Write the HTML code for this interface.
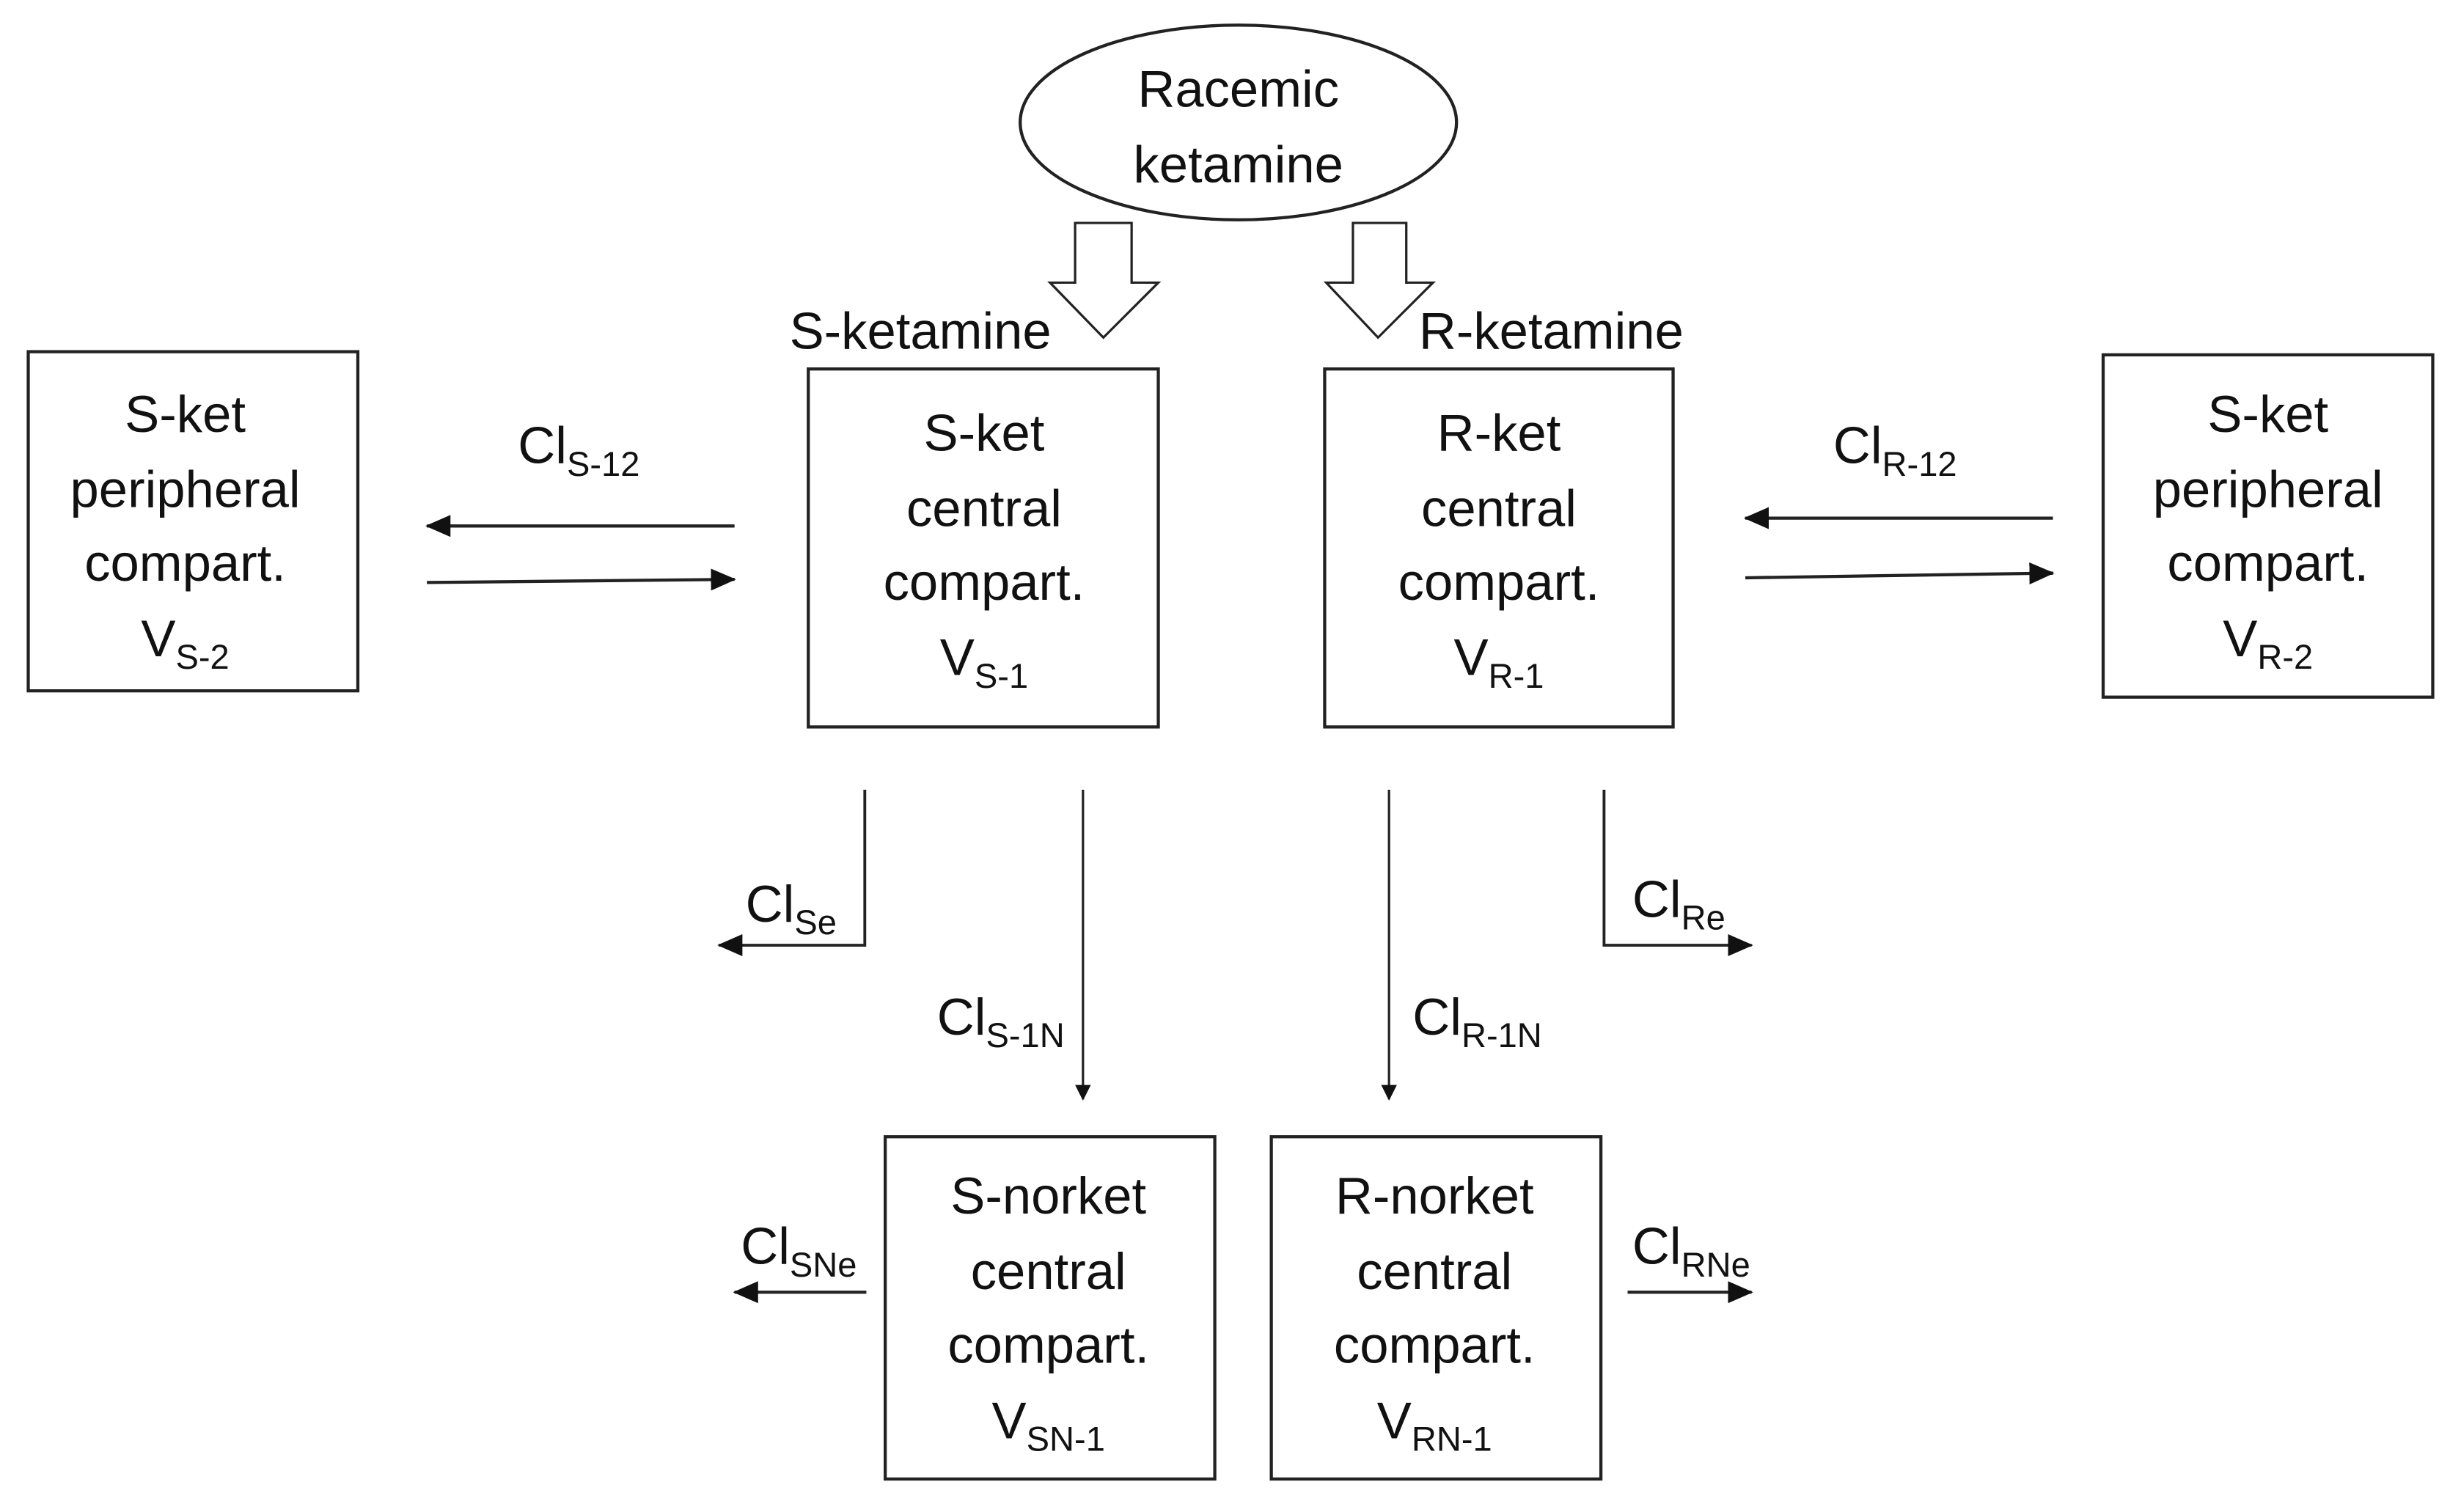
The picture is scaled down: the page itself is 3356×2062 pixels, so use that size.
<!DOCTYPE html>
<html><head><meta charset="utf-8"><style>
html,body{margin:0;padding:0;background:#fff;}
svg{display:block}
text{font-family:"Liberation Sans",sans-serif;font-size:33px;fill:#111;}
.s{font-size:22px}
</style></head><body>
<svg width="3356" height="2062" viewBox="0 0 1568 963" preserveAspectRatio="none" xmlns="http://www.w3.org/2000/svg">
<defs>
<marker id="a" markerWidth="10" markerHeight="10" refX="9" refY="5" orient="auto" markerUnits="userSpaceOnUse" viewBox="0 0 10 10">
<path d="M0,0 L10,5 L0,10 z" fill="#111"/></marker>
<marker id="b" markerWidth="16" markerHeight="14" refX="15" refY="7" orient="auto" markerUnits="userSpaceOnUse" viewBox="0 0 16 14">
<path d="M0,0 L16,7 L0,14 z" fill="#111"/></marker>
</defs>
<g fill="none" stroke="#222" stroke-width="2">
<ellipse cx="789" cy="78" rx="139" ry="62"/>
<path d="M685,142 L721,142 L721,180 L738,180 L703,215 L669,180 L685,180 Z" stroke-width="1.5"/>
<path d="M862,142 L896,142 L896,180 L913,180 L878,215 L845,180 L862,180 Z" stroke-width="1.5"/>
<rect x="18" y="224" width="210" height="216"/>
<rect x="515" y="235" width="223" height="228"/>
<rect x="844" y="235" width="222" height="228"/>
<rect x="1340" y="226" width="210" height="218"/>
<rect x="564" y="724" width="210" height="218"/>
<rect x="810" y="724" width="210" height="218"/>
<line x1="468" y1="335" x2="272" y2="335" marker-end="url(#b)"/>
<line x1="272" y1="371" x2="468" y2="369" marker-end="url(#b)"/>
<line x1="1308" y1="330" x2="1112" y2="330" marker-end="url(#b)"/>
<line x1="1112" y1="368" x2="1308" y2="365" marker-end="url(#b)"/>
<polyline points="551,503 551,602 458,602" stroke-width="1.8" marker-end="url(#b)"/>
<polyline points="1022,503 1022,602 1116,602" stroke-width="1.8" marker-end="url(#b)"/>
<line x1="690" y1="503" x2="690" y2="700" stroke-width="1.5" marker-end="url(#a)"/>
<line x1="885" y1="503" x2="885" y2="700" stroke-width="1.5" marker-end="url(#a)"/>
<line x1="552" y1="823" x2="468" y2="823" marker-end="url(#b)"/>
<line x1="1037" y1="823" x2="1116" y2="823" marker-end="url(#b)"/>
</g>
<g text-anchor="middle">
<text x="789" y="68">Racemic</text><text x="789" y="116">ketamine</text>
<text x="118" y="275">S-ket</text><text x="118" y="323">peripheral</text><text x="118" y="370">compart.</text>
<text x="118" y="418">V<tspan class="s" dy="8">S-2</tspan></text>
<text x="627" y="287">S-ket</text><text x="627" y="335">central</text><text x="627" y="382">compart.</text>
<text x="627" y="430">V<tspan class="s" dy="8">S-1</tspan></text>
<text x="955" y="287">R-ket</text><text x="955" y="335">central</text><text x="955" y="382">compart.</text>
<text x="955" y="430">V<tspan class="s" dy="8">R-1</tspan></text>
<text x="1445" y="275">S-ket</text><text x="1445" y="323">peripheral</text><text x="1445" y="370">compart.</text>
<text x="1445" y="418">V<tspan class="s" dy="8">R-2</tspan></text>
<text x="668" y="773">S-norket</text><text x="668" y="821">central</text><text x="668" y="868">compart.</text>
<text x="668" y="916">V<tspan class="s" dy="8">SN-1</tspan></text>
<text x="914" y="773">R-norket</text><text x="914" y="821">central</text><text x="914" y="868">compart.</text>
<text x="914" y="916">V<tspan class="s" dy="8">RN-1</tspan></text>
</g>
<text x="503" y="222">S-ketamine</text>
<text x="904" y="222">R-ketamine</text>
<text x="330" y="295">Cl<tspan class="s" dy="8">S-12</tspan></text>
<text x="1168" y="295">Cl<tspan class="s" dy="8">R-12</tspan></text>
<text x="475" y="587">Cl<tspan class="s" dy="8">Se</tspan></text>
<text x="1040" y="584">Cl<tspan class="s" dy="8">Re</tspan></text>
<text x="597" y="659">Cl<tspan class="s" dy="8">S-1N</tspan></text>
<text x="900" y="659">Cl<tspan class="s" dy="8">R-1N</tspan></text>
<text x="472" y="805">Cl<tspan class="s" dy="8">SNe</tspan></text>
<text x="1040" y="805">Cl<tspan class="s" dy="8">RNe</tspan></text>
</svg>
</body></html>
